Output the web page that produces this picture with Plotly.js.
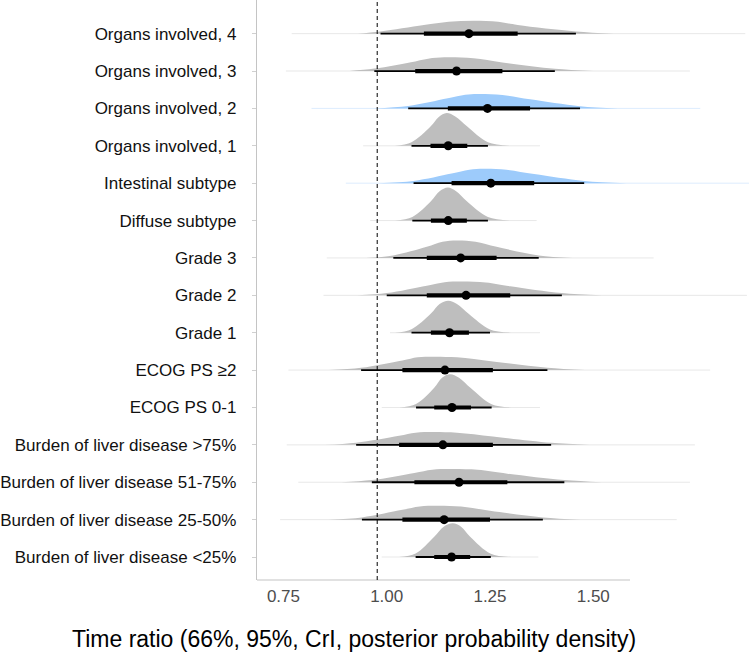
<!DOCTYPE html>
<html>
<head>
<meta charset="utf-8">
<script src="https://cdn.plot.ly/plotly-3.0.1.min.js"></script>
<style>html,body{margin:0;padding:0;background:#fff;}#chart{width:749px;height:652px;}</style>
</head>
<body>
<div id="chart"></div>
<script>
// Categories, top to bottom
const categories = [
  "Organs involved, 4", "Organs involved, 3", "Organs involved, 2", "Organs involved, 1",
  "Intestinal subtype", "Diffuse subtype", "Grade 3", "Grade 2", "Grade 1",
  "ECOG PS \u22652", "ECOG PS 0-1", "Burden of liver disease >75%",
  "Burden of liver disease 51-75%", "Burden of liver disease 25-50%", "Burden of liver disease <25%"
];
const highlighted = [0, 0, 1, 0, 1, 0, 0, 0, 0, 0, 0, 0, 0, 0, 0];
const median   = [1.199, 1.169, 1.244, 1.149, 1.252, 1.149, 1.179, 1.192, 1.152, 1.141, 1.158, 1.136, 1.175, 1.139, 1.157];
const ci66Low  = [1.090, 1.069, 1.148, 1.106, 1.157, 1.107, 1.097, 1.097, 1.107, 1.038, 1.115, 1.030, 1.067, 1.038, 1.115];
const ci66High = [1.317, 1.280, 1.347, 1.195, 1.357, 1.194, 1.266, 1.299, 1.199, 1.257, 1.204, 1.257, 1.292, 1.250, 1.202];
const ci95Low  = [0.985, 0.970, 1.052, 1.060, 1.065, 1.062, 1.016, 1.000, 1.060, 0.938, 1.071, 0.926, 0.964, 0.940, 1.070];
const ci95High = [1.458, 1.407, 1.468, 1.245, 1.478, 1.245, 1.368, 1.424, 1.250, 1.389, 1.254, 1.398, 1.430, 1.378, 1.252];
const drawLow  = [0.770, 0.756, 0.818, 0.943, 0.901, 0.960, 0.855, 0.847, 1.008, 0.762, 0.988, 0.758, 0.786, 0.742, 0.988];
const drawHigh = [1.868, 1.734, 1.759, 1.371, 1.900, 1.363, 1.646, 1.872, 1.371, 1.783, 1.371, 1.746, 1.734, 1.702, 1.367];
// Posterior density outlines (x, relative density)
const densX = [
  [0.93, 0.985, 1.090, 1.15, 1.21, 1.27, 1.317, 1.458, 1.55],
  [0.91, 0.970, 1.069, 1.11, 1.15, 1.21, 1.280, 1.407, 1.50],
  [0.97, 1.052, 1.148, 1.19, 1.22, 1.28, 1.347, 1.468, 1.56],
  [1.02, 1.060, 1.106, 1.126, 1.145, 1.166, 1.195, 1.245, 1.30],
  [0.98, 1.065, 1.157, 1.20, 1.235, 1.29, 1.357, 1.478, 1.58],
  [1.02, 1.062, 1.107, 1.128, 1.148, 1.168, 1.194, 1.245, 1.30],
  [0.95, 1.016, 1.097, 1.135, 1.17, 1.215, 1.266, 1.368, 1.45],
  [0.93, 1.000, 1.097, 1.14, 1.18, 1.24, 1.299, 1.424, 1.52],
  [1.02, 1.060, 1.107, 1.128, 1.149, 1.17, 1.199, 1.250, 1.31],
  [0.86, 0.938, 1.038, 1.075, 1.113, 1.17, 1.257, 1.389, 1.48],
  [1.03, 1.071, 1.115, 1.134, 1.153, 1.175, 1.204, 1.254, 1.31],
  [0.85, 0.926, 1.030, 1.07, 1.113, 1.17, 1.257, 1.398, 1.49],
  [0.89, 0.964, 1.067, 1.11, 1.153, 1.22, 1.292, 1.430, 1.52],
  [0.86, 0.940, 1.038, 1.08, 1.121, 1.18, 1.250, 1.378, 1.47],
  [1.03, 1.070, 1.115, 1.138, 1.160, 1.18, 1.202, 1.252, 1.31]
];
const densH = [
  [0, 2.2, 8.5, 11.8, 12.7, 11.8, 8.5, 2.2, 0],
  [0, 2.4, 9.5, 12.8, 13.7, 12.6, 8.5, 2.2, 0],
  [0, 2.4, 10, 13.5, 14.3, 13.3, 9, 2.2, 0],
  [0, 3.5, 19, 28.5, 32.4, 29, 19, 3.5, 0],
  [0, 2.2, 9.5, 13.3, 14.3, 13.3, 9, 2.2, 0],
  [0, 3.5, 19, 29, 32.7, 29, 19, 3.5, 0],
  [0, 2.5, 11, 16, 17.3, 16, 11, 2.5, 0],
  [0, 2.2, 9.5, 13, 13.7, 12.8, 9, 2.2, 0],
  [0, 3.5, 19, 28.5, 31.7, 28.5, 18.5, 3.3, 0],
  [0, 2.2, 9.5, 12.7, 13.3, 12.6, 8.5, 2.2, 0],
  [0, 3.5, 19.5, 29.5, 33, 29.5, 19, 3.3, 0],
  [0, 2.1, 9, 12.1, 12.7, 12, 8.3, 2.1, 0],
  [0, 2.1, 9.2, 12.4, 13, 12.3, 8.5, 2.1, 0],
  [0, 2.2, 9.7, 13, 13.7, 12.9, 8.8, 2.2, 0],
  [0, 3.5, 20, 30, 33.3, 30, 20, 3.3, 0]
];
const xTickVals = [0.75, 1.00, 1.25, 1.50];
const xTickText = ["0.75", "1.00", "1.25", "1.50"];
const referenceValue = 0.977;

const n = categories.length;
const rowY = categories.map((c, i) => n - i);
const maxH = Math.max(...densH.flat());
const scale = 0.9 / maxH;

const GRAY = "#bebebe", BLUE = "#9dcbfb";
const traces = [];
// faint full-range tails
categories.forEach((c, i) => {
  traces.push({
    type: "scatter", mode: "lines", hoverinfo: "skip", showlegend: false,
    x: [drawLow[i], drawHigh[i]], y: [rowY[i], rowY[i]],
    line: {color: highlighted[i] ? "rgba(157,203,251,0.35)" : "rgba(190,190,190,0.35)", width: 1}
  });
});
// densities
categories.forEach((c, i) => {
  traces.push({
    type: "scatter", mode: "lines", hoverinfo: "skip", showlegend: false,
    x: densX[i], y: densH[i].map(h => rowY[i] + h * scale),
    line: {color: highlighted[i] ? BLUE : GRAY, width: 0, shape: "spline", smoothing: 1},
    fill: "toself", fillcolor: highlighted[i] ? BLUE : GRAY
  });
});
// intervals
categories.forEach((c, i) => {
  traces.push({
    type: "scatter", mode: "lines", hoverinfo: "skip", showlegend: false,
    x: [ci95Low[i], ci95High[i]], y: [rowY[i], rowY[i]],
    line: {color: "#000", width: 1.8}
  });
  traces.push({
    type: "scatter", mode: "lines", hoverinfo: "skip", showlegend: false,
    x: [ci66Low[i], ci66High[i]], y: [rowY[i], rowY[i]],
    line: {color: "#000", width: 4.2}
  });
});
traces.push({
  type: "scatter", mode: "markers", showlegend: false,
  x: median, y: rowY, text: categories,
  marker: {color: "#000", size: 9}
});

const xRange = [0.686, 1.877];
const layout = {
  width: 749, height: 652,
  margin: {l: 257, r: 0, t: 0, b: 72},
  paper_bgcolor: "#fff", plot_bgcolor: "#fff",
  font: {family: "Liberation Sans, Arial, sans-serif", color: "#000"},
  showlegend: false,
  xaxis: {
    range: xRange, showgrid: false, zeroline: false, showline: false,
    tickvals: xTickVals, ticktext: xTickText, ticks: "",
    tickfont: {size: 17, color: "#4d4d4d"}, ticklabelstandoff: 4, fixedrange: true
  },
  yaxis: {
    range: [0.385, 15.9], showgrid: false, zeroline: false,
    showline: true, linecolor: "#c4c4c4", linewidth: 1.2,
    tickvals: rowY, ticktext: categories, ticks: "outside", ticklen: 4, tickcolor: "#d0d0d0",
    tickfont: {size: 17, color: "#111"}, ticklabelstandoff: 12, fixedrange: true
  },
  shapes: [
    {type: "line", xref: "x", yref: "paper", x0: xRange[0], x1: 1.589, y0: 0, y1: 0,
     line: {color: "#c4c4c4", width: 1.2}, layer: "above"},
    {type: "line", xref: "x", yref: "paper", x0: referenceValue, x1: referenceValue, y0: 0, y1: 1,
     line: {color: "#000", width: 1, dash: "4px,3px"}, layer: "above"}
  ],
  annotations: [{
    xref: "paper", yref: "paper", x: (354 - 257) / 492, y: -(639 - 580) / 580,
    xanchor: "center", yanchor: "middle", showarrow: false,
    text: "Time ratio (66%, 95%, CrI, posterior probability density)",
    font: {size: 23, color: "#000"}
  }]
};
Plotly.newPlot("chart", traces, layout, {displayModeBar: false, staticPlot: true});
</script>
</body>
</html>
